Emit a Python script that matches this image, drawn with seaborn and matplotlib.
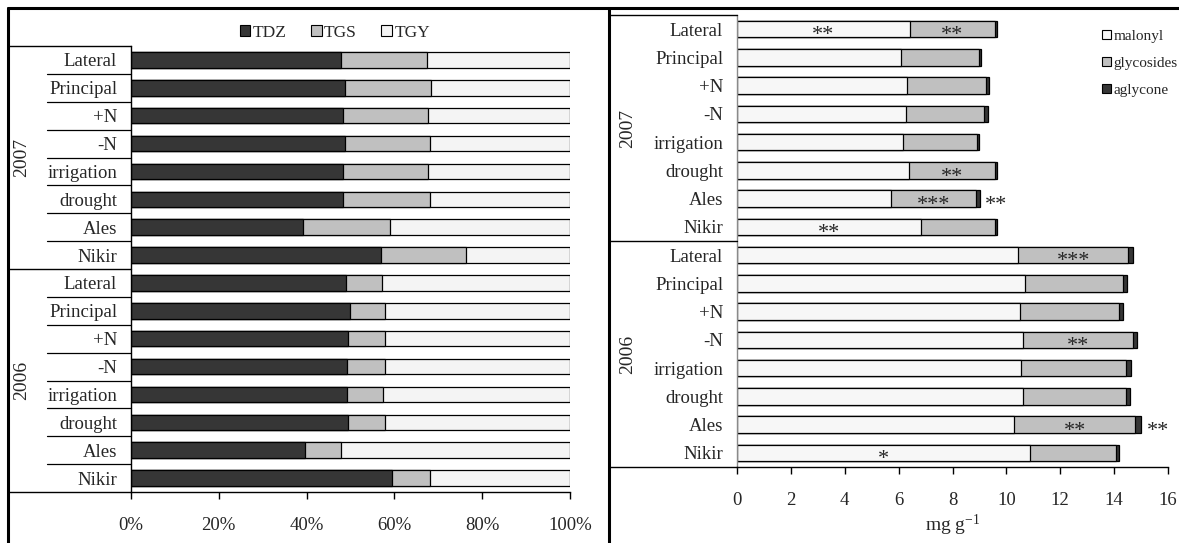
import numpy as np
import pandas as pd
import matplotlib
matplotlib.use("Agg")
import matplotlib.pyplot as plt
from matplotlib.lines import Line2D
from matplotlib.patches import Patch
from matplotlib.transforms import blended_transform_factory
import seaborn as sns

# ---------------- data ----------------
years = ["2007", "2006"]
treatments = ["Lateral", "Principal", "+N", "-N", "irrigation", "drought", "Ales", "Nikir"]

# share of each isoflavone aglycone group (%), 2007 rows then 2006 rows
tdz = [47.9, 48.8, 48.2, 48.7, 48.4, 48.4, 39.2, 57.0,
       49.0, 49.8, 49.5, 49.3, 49.3, 49.5, 39.6, 59.5]
tgs = [19.6, 19.6, 19.5, 19.3, 19.3, 19.8, 19.8, 19.2,
       8.2, 8.1, 8.3, 8.5, 8.2, 8.4, 8.3, 8.5]
tgy = [32.5, 31.6, 32.3, 32.0, 32.3, 31.8, 41.0, 23.8,
       42.8, 42.1, 42.2, 42.2, 42.5, 42.1, 52.1, 32.0]

# content by conjugation form (mg g-1)
malonyl = [6.42, 6.10, 6.30, 6.26, 6.17, 6.37, 5.70, 6.84,
           10.45, 10.68, 10.52, 10.63, 10.54, 10.61, 10.29, 10.87]
glycosides = [3.15, 2.87, 2.96, 2.92, 2.74, 3.20, 3.18, 2.73,
              4.08, 3.64, 3.66, 4.08, 3.90, 3.82, 4.50, 3.21]
aglycone = [0.09, 0.09, 0.11, 0.12, 0.08, 0.09, 0.14, 0.08,
            0.18, 0.16, 0.14, 0.15, 0.17, 0.16, 0.21, 0.11]

# significance marks: row index, segment, text
sig_row = [0, 0, 5, 6, 6, 7, 8, 11, 14, 14, 15]
sig_part = ["malonyl", "glycosides", "glycosides", "glycosides", "total", "malonyl",
            "glycosides", "glycosides", "glycosides", "total", "malonyl"]
sig_text = ["**", "**", "**", "***", "**", "**", "***", "**", "**", "**", "*"]

pct_ticks = [0, 20, 40, 60, 80, 100]
pct_labels = ["0%", "20%", "40%", "60%", "80%", "100%"]
mg_ticks = [0, 2, 4, 6, 8, 10, 12, 14, 16]

# ---------------- style ----------------
sns.set_style("white")
plt.rcParams["font.family"] = ["Liberation Serif", "DejaVu Serif"]
plt.rcParams["mathtext.fontset"] = "custom"
plt.rcParams["mathtext.rm"] = "Liberation Serif"
plt.rcParams["mathtext.default"] = "regular"

W, H = 1179, 543
fig = plt.figure(figsize=(W / 100, H / 100), dpi=100)

DARK = "#363636"
MID = "#c0c0c0"
LIGHT = "#f4f4f4"

keys = [f"{y}|{t}" for y in years for t in treatments]
labels = [t for y in years for t in treatments]
n = len(keys)


def fx(px):
    return px / W


def fy(py):
    return 1 - py / H


ax1 = fig.add_axes([fx(131), fy(492), fx(570) - fx(131), (492 - 46) / H])
ax2 = fig.add_axes([fx(737), fy(467), fx(1168) - fx(737), (467 - 15) / H])

# ---------------- left panel: percentage composition ----------------
left = pd.DataFrame({"key": keys, "TDZ": tdz, "TGS": tgs, "TGY": tgy})
left["c1"] = left["TDZ"]
left["c2"] = left["TDZ"] + left["TGS"]
left["c3"] = left["c2"] + left["TGY"]
for col, colr in [("c3", LIGHT), ("c2", MID), ("c1", DARK)]:
    sns.barplot(data=left, x=col, y="key", order=keys, orient="h", color=colr,
                saturation=1, width=0.56, edgecolor="black", linewidth=0.9,
                errorbar=None, ax=ax1)

ax1.set_xlim(0, 100)
ax1.set_ylim(n - 0.5, -0.5)
ax1.set_xticks(pct_ticks)
ax1.set_xticklabels(pct_labels)
ax1.set_yticks(range(n))
ax1.set_yticklabels(labels)
ax1.set_xlabel("")
ax1.set_ylabel("")

# ---------------- right panel: absolute content ----------------
right = pd.DataFrame({"key": keys, "malonyl": malonyl,
                      "glycosides": glycosides, "aglycone": aglycone})
right["c1"] = right["malonyl"]
right["c2"] = right["malonyl"] + right["glycosides"]
right["c3"] = right["c2"] + right["aglycone"]
for col, colr in [("c3", DARK), ("c2", MID), ("c1", "#f7f7f7")]:
    sns.barplot(data=right, x=col, y="key", order=keys, orient="h", color=colr,
                saturation=1, width=0.59, edgecolor="black", linewidth=0.9,
                errorbar=None, ax=ax2)

ax2.set_xlim(0, 16)
ax2.set_ylim(n - 0.5, -0.5)
ax2.set_xticks(mg_ticks)
ax2.set_yticks(range(n))
ax2.set_yticklabels(labels)
ax2.set_ylabel("")
ax2.set_xlabel("mg g$^{-1}$", fontsize=14, labelpad=3)

# asterisks sit high in the glyph box, so nudge them down to the bar middle
star_dy = 0.24
for r, part, txt in zip(sig_row, sig_part, sig_text):
    m, g, a = malonyl[r], glycosides[r], aglycone[r]
    if part == "malonyl":
        ax2.text(m / 2, r + star_dy, txt, ha="center", va="center", fontsize=16)
    elif part == "glycosides":
        ax2.text(m + g / 2, r + star_dy, txt, ha="center", va="center", fontsize=16)
    else:
        ax2.text(m + g + a + 0.2, r + star_dy, txt, ha="left", va="center", fontsize=16)

# ---------------- axes styling ----------------
for ax, spine_col in [(ax1, "black"), (ax2, "#8a8a8a")]:
    for s in ["top", "right"]:
        ax.spines[s].set_visible(False)
    ax.spines["left"].set_color(spine_col)
    ax.spines["left"].set_linewidth(1.0)
    ax.spines["bottom"].set_color("black")
    ax.spines["bottom"].set_linewidth(1.0)
    ax.tick_params(axis="x", direction="out", length=5, width=1, color="black",
                   pad=13, labelsize=13.5, bottom=True)
    ax.tick_params(axis="y", length=0, pad=10, labelsize=13.5)
    ax.grid(False)

# table-style rules beside the category labels
tr1 = blended_transform_factory(fig.transFigure, ax1.transData)
for b in range(n - 1):
    if b == 7:
        continue
    fig.add_artist(Line2D([fx(47), fx(131)], [b + 0.5, b + 0.5], transform=tr1,
                          color="black", lw=0.9))
for yb in [-0.5, 7.5, n - 0.5]:
    fig.add_artist(Line2D([fx(8), fx(131)], [yb, yb], transform=tr1,
                          color="black", lw=1.0))

tr2 = blended_transform_factory(fig.transFigure, ax2.transData)
for yb in [-0.5, 7.5, n - 0.5]:
    fig.add_artist(Line2D([fx(609), fx(737)], [yb, yb], transform=tr2,
                          color="black", lw=1.0))

# year labels
for ax, xp in [(ax1, 22), (ax2, 628)]:
    trf = blended_transform_factory(fig.transFigure, ax.transData)
    ax.text(fx(xp), 3.5, years[0], transform=trf, rotation=90,
            ha="center", va="center", fontsize=14)
    ax.text(fx(xp), 11.5, years[1], transform=trf, rotation=90,
            ha="center", va="center", fontsize=14)

# outer frame and divider
fig.add_artist(Line2D([fx(8), 1], [fy(8), fy(8)], color="black", lw=2.2))
fig.add_artist(Line2D([fx(8), fx(8)], [0, fy(8)], color="black", lw=2.2))
fig.add_artist(Line2D([fx(609), fx(609)], [0, fy(8)], color="black", lw=2.2))

# legends
h1 = [Patch(facecolor=DARK, edgecolor="black", lw=0.8, label="TDZ"),
      Patch(facecolor=MID, edgecolor="black", lw=0.8, label="TGS"),
      Patch(facecolor=LIGHT, edgecolor="black", lw=0.8, label="TGY")]
fig.legend(handles=h1, loc="center", bbox_to_anchor=(fx(335), fy(33)), ncol=3,
           frameon=False, fontsize=12.5, handlelength=0.6, handleheight=0.6,
           handletextpad=0.15, columnspacing=1.4)

h2 = [Patch(facecolor="#f7f7f7", edgecolor="black", lw=0.8, label="malonyl"),
      Patch(facecolor=MID, edgecolor="black", lw=0.8, label="glycosides"),
      Patch(facecolor=DARK, edgecolor="black", lw=0.8, label="aglycone")]
fig.legend(handles=h2, loc="upper left", bbox_to_anchor=(fx(1088), fy(16)),
           ncol=1, frameon=False, fontsize=11, handlelength=0.6,
           handleheight=0.6, handletextpad=0.15, labelspacing=0.9)

fig.savefig("out.png", dpi=100, facecolor="white")
